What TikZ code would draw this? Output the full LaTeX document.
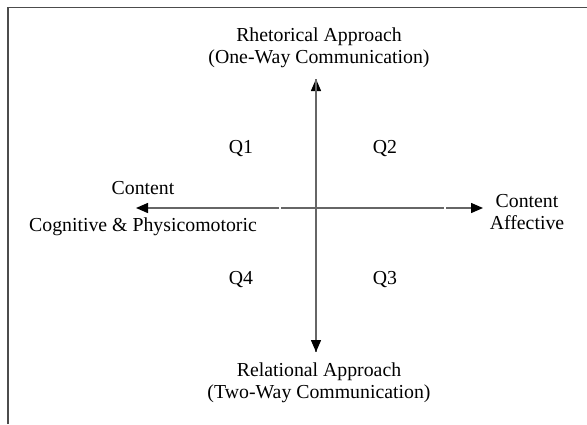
\documentclass[tikz,border=0pt]{standalone}
\usepackage{fontspec}
\setmainfont{Liberation Serif}
\usetikzlibrary{arrows.meta}

\tikzset{
  axis/.style={draw=black!60, line width=1.4pt},
  tip/.style={-{Triangle[length=12pt,width=10pt,color=black]}},
  lbl/.style={font=\fontsize{19.8}{22}\selectfont, align=center, inner sep=0pt},
}

\begin{document}
\begin{tikzpicture}[x=1pt,y=-1pt]
\useasboundingbox (0,0) rectangle (587,424);
\draw[black!70, line width=1.8pt] (8,424) -- (8,7.5) -- (587,7.5);

\coordinate (top) at (316,79);
\coordinate (bot) at (316,352);
\coordinate (west) at (136,208);
\coordinate (east) at (483,208);
\coordinate (g1) at (279,208);
\coordinate (g2) at (281,208);
\coordinate (g3) at (444,208);
\coordinate (g4) at (446,208);

\draw[axis, tip] (bot) -- (top);
\draw[axis, tip] (top) -- (bot);
\draw[axis, tip] (g1) -- (west);
\draw[axis] (g2) -- (g3);
\draw[axis, tip] (g4) -- (east);

\node[lbl] (rhet) at (319,48) {Rhetorical Approach\\(One-Way Communication)};
\node[lbl] (rel) at (319,383) {Relational Approach\\(Two-Way Communication)};
\node[lbl] (q1) at (241,149) {Q1};
\node[lbl] (q2) at (385,149) {Q2};
\node[lbl] (q4) at (241,280) {Q4};
\node[lbl] (q3) at (385,280) {Q3};
\node[lbl] (cl) at (143,188) {Content};
\node[lbl] (cog) at (143,227) {Cognitive \& Physicomotoric};
\node[lbl] (aff) at (527,212) {Content\\Affective};
\end{tikzpicture}
\end{document}
